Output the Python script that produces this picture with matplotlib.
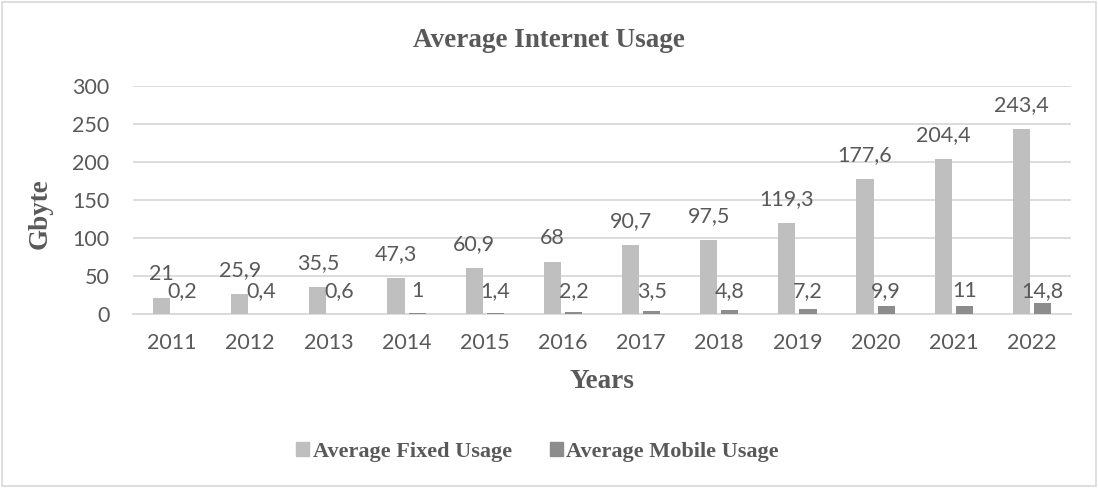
import matplotlib.pyplot as plt
import numpy as np
from matplotlib.patches import Rectangle, Patch

years = ['2011', '2012', '2013', '2014', '2015', '2016',
         '2017', '2018', '2019', '2020', '2021', '2022']
fixedUsage = [21, 25.9, 35.5, 47.3, 60.9, 68, 90.7, 97.5, 119.3, 177.6, 204.4, 243.4]
mobileUsage = [0.2, 0.4, 0.6, 1, 1.4, 2.2, 3.5, 4.8, 7.2, 9.9, 11, 14.8]
yTicks = [0, 50, 100, 150, 200, 250, 300]

textColor = '#595959'
gridColor = '#d9d9d9'
fixedColor = '#bfbfbf'
mobileColor = '#8c8c8c'
serif = 'Liberation Serif'
sans = 'Lato'

def commaLabel(v):
    s = f'{v:g}'
    return s.replace('.', ',')

fig = plt.figure(figsize=(10.98, 4.88), dpi=100)
fig.patches.append(Rectangle((0.002, 0.004), 0.996, 0.992, transform=fig.transFigure,
                             fill=False, edgecolor=gridColor, linewidth=1.2))

ax = fig.add_axes([0.1211, 0.3566, 0.8543, 0.4672])
x = np.arange(len(years))
w = 0.22
off = 0.135

ax.bar(x - off, fixedUsage, width=w, color=fixedColor, zorder=3)
ax.bar(x + off, mobileUsage, width=w, color=mobileColor, zorder=3)

#=====

for i in range(len(years)):
    ax.annotate(commaLabel(fixedUsage[i]), (x[i] - off, fixedUsage[i]),
                xytext=(0, 18), textcoords='offset pixels', ha='center', va='baseline',
                fontsize=15.5, color=textColor, family=sans)
    # mobile labels all sit at the same height above the baseline
    ax.annotate(commaLabel(mobileUsage[i]), (x[i] + off, 0),
                xytext=(0, 17), textcoords='offset pixels', ha='center', va='baseline',
                fontsize=15.5, color=textColor, family=sans)

ax.set_xlim(-0.5, len(years) - 0.5)
ax.set_ylim(0, 300)
ax.set_yticks(yTicks)
ax.set_xticks(x)
ax.set_xticklabels(years)
ax.grid(axis='y', color=gridColor, linewidth=1.3, zorder=0)
ax.set_axisbelow(True)
for side in ['top', 'right', 'left']:
    ax.spines[side].set_visible(False)
ax.spines['bottom'].set_color(gridColor)
ax.spines['bottom'].set_linewidth(1.3)
ax.tick_params(axis='both', length=0, labelsize=15.5, labelcolor=textColor)
ax.tick_params(axis='y', pad=17)
ax.tick_params(axis='x', pad=14)
for lbl in ax.get_xticklabels() + ax.get_yticklabels():
    lbl.set_family(sans)

#=====

fig.text(0.5, 1 - 47 / 488, 'Average Internet Usage', ha='center', va='baseline',
         fontsize=19.5, fontweight='bold', color=textColor, family=serif)
fig.text(602 / 1098, 1 - 382 / 488, 'Years', ha='center', va='center',
         fontsize=19.5, fontweight='bold', color=textColor, family=serif)
fig.text(40 / 1098, 1 - 214 / 488, 'Gbyte', ha='center', va='center', rotation=90,
         fontsize=19.5, fontweight='bold', color=textColor, family=serif)

handles = [Patch(color=fixedColor, label='Average Fixed Usage'),
           Patch(color=mobileColor, label='Average Mobile Usage')]
leg = fig.legend(handles=handles, loc='center', bbox_to_anchor=(537.5 / 1098, 1 - 452 / 488),
                 ncol=2, frameon=False, handlelength=0.6, handleheight=0.6,
                 handletextpad=0.15, columnspacing=1.7,
                 prop={'family': serif, 'weight': 'bold', 'size': 16})
for t in leg.get_texts():
    t.set_color(textColor)

plt.savefig('out.png', dpi=100)
